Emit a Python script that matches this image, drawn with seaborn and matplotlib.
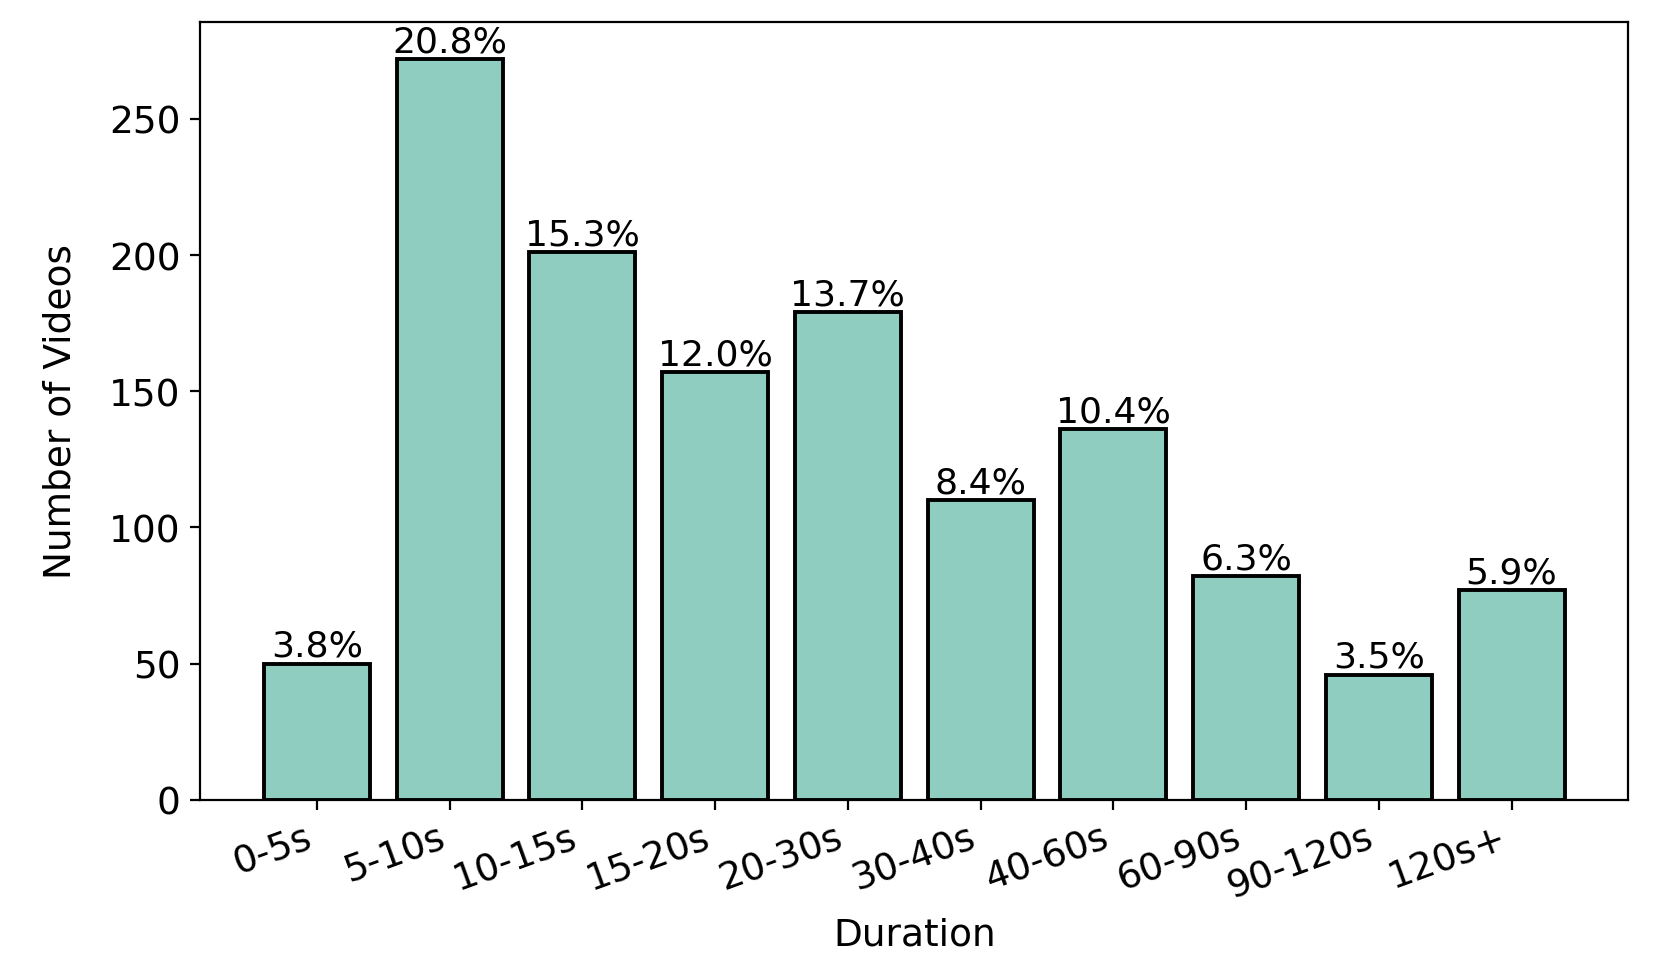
import matplotlib
matplotlib.use("Agg")
import matplotlib.pyplot as plt
import seaborn as sns
import pandas as pd

durations = ["0-5s", "5-10s", "10-15s", "15-20s", "20-30s", "30-40s", "40-60s", "60-90s", "90-120s", "120s+"]
counts = [50, 272, 201, 157, 179, 110, 136, 82, 46, 77]

total = sum(counts)
percent_labels = [f"{c / total * 100:.1f}%" for c in counts]

df = pd.DataFrame({"Duration": durations, "Count": counts})

FS = 13

fig = plt.figure(figsize=(8.3, 4.895), dpi=200)
ax = fig.add_axes([0.1205, 0.182, 0.8605, 0.7945])

sns.barplot(data=df, x="Duration", y="Count", color="#8ECDC0", saturation=1,
            edgecolor="black", linewidth=1.4, width=0.8, ax=ax)

ax.bar_label(ax.containers[0], labels=percent_labels, padding=0.3, fontsize=FS)

n = len(durations)
ax.set_xlim(-0.4 - 0.049 * (n - 0.2), n - 1 + 0.4 + 0.049 * (n - 0.2))
ax.set_ylim(0, max(counts) * 1.05)
ax.set_xlabel("Duration", fontsize=FS + 0.5)
ax.set_ylabel("Number of Videos", fontsize=FS + 0.5, labelpad=11)
ax.tick_params(axis="both", labelsize=FS + 0.5)
plt.setp(ax.get_xticklabels(), rotation=20, ha="right")

fig.savefig("out.png", dpi=200)
